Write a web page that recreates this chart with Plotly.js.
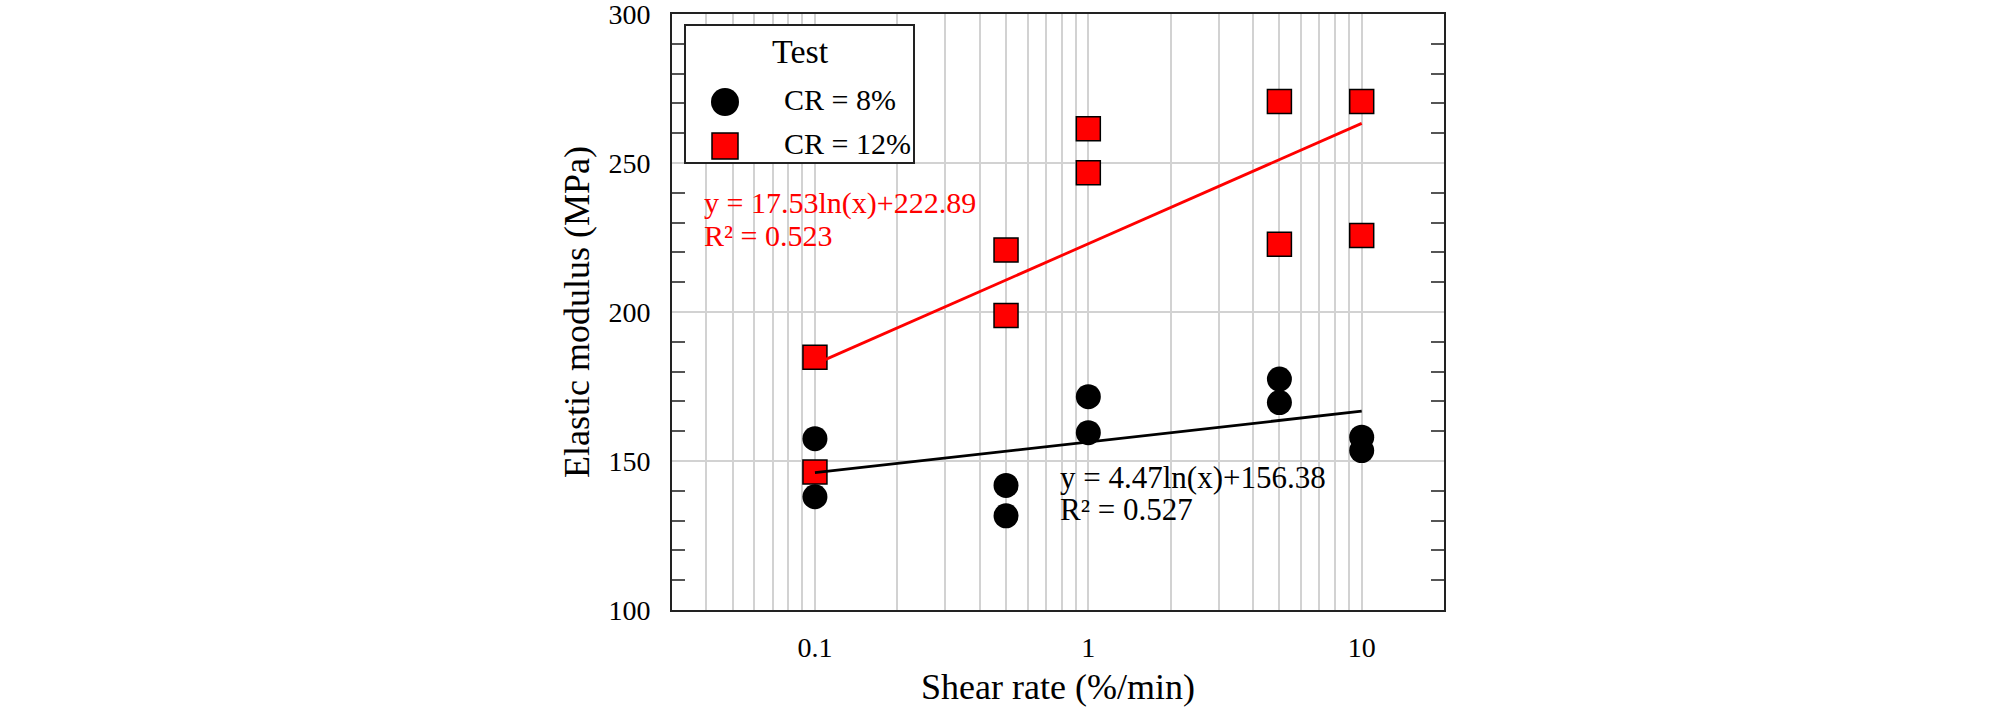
<!DOCTYPE html>
<html>
<head>
<meta charset="utf-8">
<script src="https://cdn.plot.ly/plotly-3.0.1.min.js"></script>
<style>html,body{margin:0;padding:0;background:#fff;}</style>
</head>
<body>
<div id="chart" style="width:2008px;height:707px;"></div>
<script>
// ---- data ----
const shearRate8  = [0.1, 0.1, 0.5, 0.5, 1, 1, 5, 5, 10, 10];
const modulus8    = [157.5, 138.0, 141.8, 131.6, 171.6, 159.5, 177.5, 169.6, 158.0, 153.5];
const shearRate12 = [0.1, 0.1, 0.5, 0.5, 1, 1, 5, 5, 10, 10];
const modulus12   = [184.8, 146.3, 220.8, 198.8, 261.5, 246.7, 270.6, 222.7, 270.6, 225.7];
const fitX        = [0.1, 10];
const fit8Y       = [146.1, 166.7];
const fit12Y      = [182.5, 263.3];
const seriesNames = ['CR = 8%', 'CR = 12%'];
const legendTitle = 'Test';
const xGridVals   = [0.03,0.04,0.05,0.06,0.07,0.08,0.09,0.1,0.2,0.3,0.4,0.5,0.6,0.7,0.8,0.9,1,2,3,4,5,6,7,8,9,10,20];
const xLabelVals  = [0.1, 1, 10];
const eq8  = ['y = 4.47ln(x)+156.38', 'R² = 0.527'];
const eq12 = ['y = 17.53ln(x)+222.89', 'R² = 0.523'];

// ---- layout geometry ----
const W = 2008, H = 707;
const L = 672, R = 1444, T = 14, B = 610;
const pw = R - L, ph = B - T;
const px = v => (v - L) / pw;
const py = v => (B - v) / ph;
const FONT = '"Liberation Serif", "Times New Roman", Times, serif';

const traces = [
  { x: shearRate8, y: modulus8, type: 'scatter', mode: 'markers', name: seriesNames[0],
    marker: { symbol: 'circle', size: 25, color: '#000000', line: { width: 0 } }, showlegend: false },
  { x: shearRate12, y: modulus12, type: 'scatter', mode: 'markers', name: seriesNames[1],
    marker: { symbol: 'square', size: 24, color: '#ff0000', line: { width: 1.5, color: '#000000' } }, showlegend: false },
  { x: fitX, y: fit12Y, type: 'scatter', mode: 'lines', line: { color: '#ff0000', width: 2.8 }, showlegend: false },
  { x: fitX, y: fit8Y, type: 'scatter', mode: 'lines', line: { color: '#000000', width: 2.8 }, showlegend: false }
];

const legBox = { x0: 685, x1: 914, y0: 25, y1: 163 };
const shapes = [
  { type: 'rect', xref: 'paper', yref: 'paper', layer: 'above',
    x0: px(legBox.x0), x1: px(legBox.x1), y0: py(legBox.y1), y1: py(legBox.y0),
    fillcolor: '#ffffff', line: { color: '#222222', width: 2 } },
  { type: 'circle', xref: 'paper', yref: 'paper', layer: 'above',
    x0: px(725 - 14), x1: px(725 + 14), y0: py(102 + 14), y1: py(102 - 14),
    fillcolor: '#000000', line: { color: '#000000', width: 0 } },
  { type: 'rect', xref: 'paper', yref: 'paper', layer: 'above',
    x0: px(725 - 13), x1: px(725 + 13), y0: py(146 + 13), y1: py(146 - 13),
    fillcolor: '#ff0000', line: { color: '#000000', width: 1.5 } }
];

const annotations = [
  { xref: 'paper', yref: 'paper', x: px(800), y: py(52), text: legendTitle, showarrow: false,
    xanchor: 'center', yanchor: 'middle', font: { family: FONT, size: 34, color: '#000' } },
  { xref: 'paper', yref: 'paper', x: px(782), y: py(100), text: seriesNames[0], showarrow: false,
    xanchor: 'left', yanchor: 'middle', font: { family: FONT, size: 30, color: '#000' } },
  { xref: 'paper', yref: 'paper', x: px(782), y: py(143), text: seriesNames[1], showarrow: false,
    xanchor: 'left', yanchor: 'middle', font: { family: FONT, size: 30, color: '#000' } },
  { xref: 'paper', yref: 'paper', x: px(702), y: py(203), text: eq12[0], showarrow: false,
    xanchor: 'left', yanchor: 'middle', font: { family: FONT, size: 30, color: '#ff0000' } },
  { xref: 'paper', yref: 'paper', x: px(702), y: py(235), text: eq12[1], showarrow: false,
    xanchor: 'left', yanchor: 'middle', font: { family: FONT, size: 30, color: '#ff0000' } },
  { xref: 'paper', yref: 'paper', x: px(1058), y: py(477), text: eq8[0], showarrow: false,
    xanchor: 'left', yanchor: 'middle', font: { family: FONT, size: 31, color: '#000' } },
  { xref: 'paper', yref: 'paper', x: px(1058), y: py(509), text: eq8[1], showarrow: false,
    xanchor: 'left', yanchor: 'middle', font: { family: FONT, size: 31, color: '#000' } }
];

const layout = {
  width: W, height: H,
  margin: { l: L, r: W - R, t: T, b: H - B, pad: 0 },
  paper_bgcolor: '#ffffff', plot_bgcolor: '#ffffff',
  font: { family: FONT, color: '#000000' },
  showlegend: false,
  xaxis: {
    type: 'log',
    range: [Math.log10(0.03), Math.log10(20)],
    tickmode: 'array',
    tickvals: xLabelVals,
    ticktext: xLabelVals.map(v => String(v)),
    ticks: '',
    showgrid: true, gridcolor: '#d2d2d2', gridwidth: 2,
    minor: { tickmode: 'array', tickvals: xGridVals, ticks: '', showgrid: true, gridcolor: '#d2d2d2', gridwidth: 2 },
    showline: true, mirror: true, linecolor: '#222222', linewidth: 2,
    zeroline: false,
    tickfont: { family: FONT, size: 28, color: '#000' },
    ticklabelstandoff: 11,
    title: { text: 'Shear rate (%/min)', font: { family: FONT, size: 36, color: '#000' }, standoff: 14 }
  },
  yaxis: {
    range: [100, 300],
    tickmode: 'linear', tick0: 100, dtick: 50,
    ticks: '',
    ticklabeloverflow: 'allow',
    showgrid: true, gridcolor: '#d2d2d2', gridwidth: 2,
    showline: true, mirror: 'ticks', linecolor: '#222222', linewidth: 2,
    zeroline: false,
    minor: { dtick: 10, ticks: 'inside', ticklen: 13, tickcolor: '#555555', tickwidth: 2, showgrid: false },
    tickfont: { family: FONT, size: 28, color: '#000' },
    ticklabelstandoff: 14,
    title: { text: 'Elastic modulus (MPa)', font: { family: FONT, size: 36, color: '#000' }, standoff: 8 }
  },
  shapes: shapes,
  annotations: annotations
};

Plotly.newPlot('chart', traces, layout, { staticPlot: true, displayModeBar: false });
</script>
</body>
</html>
